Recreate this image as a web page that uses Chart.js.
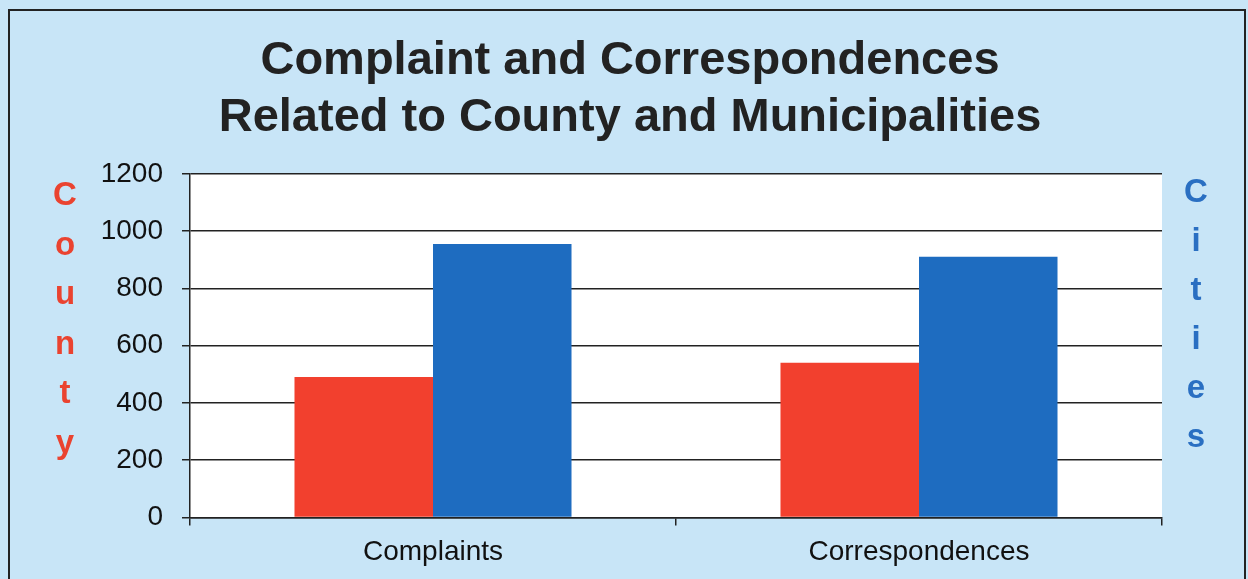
<!DOCTYPE html>
<html>
<head>
<meta charset="utf-8">
<script src="https://cdn.jsdelivr.net/npm/chart.js@4"></script>
<style>
  html, body { margin: 0; padding: 0; background: #c8e5f7; }
  #wrap { width: 1248px; height: 579px; }
</style>
</head>
<body>
<div id="wrap"><canvas id="chart" width="1248" height="579"></canvas></div>
<script>
const categories = ["Complaints", "Correspondences"]
const countyValues = [490, 540]
const citiesValues = [955, 910]
const yTicks = [0, 200, 400, 600, 800, 1000, 1200]
const leftLetters = ["C", "o", "u", "n", "t", "y"]
const rightLetters = ["C", "i", "t", "i", "e", "s"]

const FONT = "'Liberation Sans', Arial, sans-serif"

// light blue page, white plot area, thin black frame
const backdrop = {
  id: "backdrop",
  beforeDraw(chart) {
    const { ctx, chartArea: a } = chart
    ctx.save()
    ctx.fillStyle = "#c8e5f7"
    ctx.fillRect(0, 0, chart.width, chart.height)
    ctx.fillStyle = "#ffffff"
    ctx.fillRect(a.left, a.top, a.right - a.left, a.bottom - a.top)
    ctx.strokeStyle = "#222"
    ctx.lineWidth = 2
    ctx.beginPath()
    ctx.moveTo(9, chart.height)
    ctx.lineTo(9, 10)
    ctx.lineTo(1245, 10)
    ctx.lineTo(1245, chart.height)
    ctx.stroke()
    ctx.restore()
  },
}

// stacked letters for the two side labels
const sideLabels = {
  id: "sideLabels",
  afterDraw(chart) {
    const { ctx } = chart
    ctx.save()
    ctx.font = "bold 33px " + FONT
    ctx.textAlign = "center"
    ctx.textBaseline = "middle"
    ctx.fillStyle = "#ea4330"
    leftLetters.forEach((ch, i) => ctx.fillText(ch, 65, 196 + i * 49.5))
    ctx.fillStyle = "#2a6fc2"
    rightLetters.forEach((ch, i) => ctx.fillText(ch, 1196, 193 + i * 49))
    ctx.restore()
  },
}

new Chart(document.getElementById("chart"), {
  type: "bar",
  data: {
    labels: categories,
    datasets: [
      { label: "County", data: countyValues, backgroundColor: "#f2402e" },
      { label: "Cities", data: citiesValues, backgroundColor: "#1e6cc0" },
    ],
  },
  options: {
    responsive: false,
    animation: false,
    layout: { padding: { left: 86, right: 74, top: 0, bottom: 0 } },
    datasets: { bar: { categoryPercentage: 0.57, barPercentage: 1 } },
    plugins: {
      legend: { display: false },
      tooltip: { enabled: false },
      title: {
        display: true,
        text: ["Complaint and Correspondences", "Related to County and Municipalities"],
        color: "#222",
        font: { family: FONT, size: 47, weight: "bold", lineHeight: 1.2 },
        padding: { top: 33, bottom: 28 },
      },
    },
    scales: {
      x: {
        grid: { display: true, drawOnChartArea: false, color: "#222", lineWidth: 1.5, tickLength: 8 },
        border: { color: "#222", width: 1.5 },
        ticks: { color: "#111", font: { family: FONT, size: 28 }, padding: 10 },
      },
      y: {
        min: 0,
        max: 1200,
        afterBuildTicks(scale) {
          scale.ticks = yTicks.map(v => ({ value: v }))
        },
        afterFit(scale) {
          scale.width = 104
        },
        grid: { color: "#222", lineWidth: 1.5, tickLength: 8 },
        border: { color: "#222", width: 1.5 },
        ticks: {
          color: "#111",
          font: { family: FONT, size: 28 },
          padding: 19,
          callback: v => String(v),
        },
      },
      y2: {
        position: "right",
        grid: { display: false },
        border: { display: false },
        ticks: { display: false },
        afterFit(scale) {
          scale.width = 12
        },
      },
    },
  },
  plugins: [backdrop, sideLabels],
})
</script>
</body>
</html>
